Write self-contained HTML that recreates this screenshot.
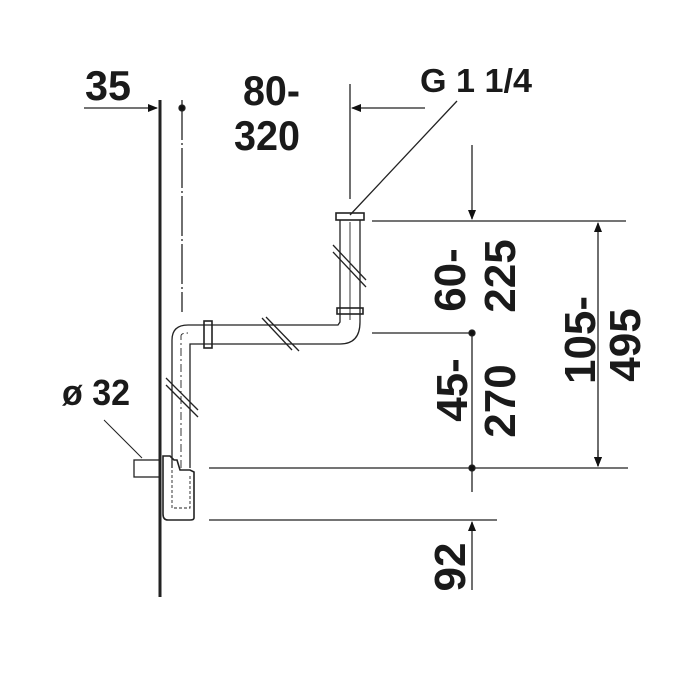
<!DOCTYPE html>
<html><head><style>
html,body{margin:0;padding:0;background:#fff;}
svg{display:block;}
text{font-family:"Liberation Sans",Arial,sans-serif;font-weight:bold;fill:#1a1a1a;}
</style></head><body>
<svg width="700" height="700" viewBox="0 0 700 700" xmlns="http://www.w3.org/2000/svg">
<defs>
<marker id="a" markerWidth="10" markerHeight="10" refX="9" refY="4" orient="auto" markerUnits="userSpaceOnUse">
<path d="M0,0 L10,4 L0,8 Z" fill="#111"/></marker>
</defs>
<g stroke="#222" fill="none" stroke-width="1.3">
<line x1="160" y1="100" x2="160" y2="597" stroke-width="3"/>
<line x1="182" y1="100" x2="182" y2="312" stroke-dasharray="40,3,2,3"/>
<circle cx="182" cy="108" r="3" fill="#111"/>
<line x1="84" y1="108" x2="157" y2="108" marker-end="url(#a)"/>
<line x1="350" y1="84" x2="350" y2="199"/>
<line x1="425" y1="108" x2="352" y2="108" marker-end="url(#a)"/>
<line x1="457" y1="101" x2="350" y2="215"/>
<line x1="372" y1="221" x2="626" y2="221"/>
<line x1="372" y1="333" x2="472" y2="333"/>
<line x1="209" y1="468" x2="628" y2="468"/>
<line x1="209" y1="520" x2="497" y2="520"/>
<line x1="472" y1="145" x2="472" y2="219" marker-end="url(#a)"/>
<line x1="472" y1="333" x2="472" y2="492"/>
<line x1="472" y1="590" x2="472" y2="522" marker-end="url(#a)"/>
<line x1="598" y1="240" x2="598" y2="223" marker-end="url(#a)"/>
<line x1="598" y1="240" x2="598" y2="466" marker-end="url(#a)"/>
<line x1="598" y1="450" x2="598" y2="466" marker-end="url(#a)"/>
<circle cx="472" cy="333" r="3" fill="#111"/>
<circle cx="472" cy="468" r="3" fill="#111"/>
<path d="M172,468 L172,340 Q172,325 188,325 L338,325 L340,322 L340,220 M360,220 L360,322 Q360,344 340,344 L190,344 L190,468"/>
<path d="M181,468 L181,336 Q181,333 188,333" stroke-dasharray="8,3,2,3" stroke-width="0.9"/>
<line x1="350" y1="222" x2="350" y2="320" stroke-width="0.9"/>
<rect x="336" y="213" width="28" height="7" stroke-width="1.6"/>
<rect x="337" y="308" width="26" height="6" stroke-width="1.6"/>
<rect x="204" y="321" width="8" height="27" stroke-width="1.6"/>
<line x1="333" y1="245" x2="366" y2="280"/><line x1="333" y1="252" x2="366" y2="287"/>
<line x1="262" y1="318" x2="292" y2="350"/><line x1="266" y1="317" x2="299" y2="351"/>
<line x1="166" y1="378" x2="198" y2="410"/><line x1="166" y1="385" x2="198" y2="417"/>
<path d="M163,456 L170,456 L174,460 L177,460 L180,470 L190,470 L194,472 L194,518 Q194,520 190,520 L168,520 Q163,520 163,514 Z" stroke-width="1.6"/>
<path d="M172,470 L172,508 L190,508 L190,475" stroke-dasharray="3,2" stroke-width="0.9"/>
<rect x="134" y="460" width="26" height="17"/>
<line x1="104" y1="420" x2="142" y2="458" stroke-width="1"/>
</g>
<text x="85" y="100" font-size="42" textLength="46" lengthAdjust="spacingAndGlyphs">35</text>
<text x="243" y="105" font-size="42" textLength="57" lengthAdjust="spacingAndGlyphs">80-</text>
<text x="234" y="150" font-size="42" textLength="66" lengthAdjust="spacingAndGlyphs">320</text>
<text x="420" y="92" font-size="33" textLength="112" lengthAdjust="spacingAndGlyphs">G 1 1/4</text>
<text x="62" y="405" font-size="36" textLength="68" lengthAdjust="spacingAndGlyphs">ø 32</text>
<g font-size="44">
<text transform="translate(465,280) rotate(-90)" text-anchor="middle">60-</text>
<text transform="translate(515,276) rotate(-90)" text-anchor="middle">225</text>
<text transform="translate(467,390) rotate(-90)" text-anchor="middle">45-</text>
<text transform="translate(515,401) rotate(-90)" text-anchor="middle">270</text>
<text transform="translate(595,340) rotate(-90)" text-anchor="middle">105-</text>
<text transform="translate(640,345) rotate(-90)" text-anchor="middle">495</text>
<text transform="translate(465,567) rotate(-90)" text-anchor="middle">92</text>
</g>
</svg>
</body></html>
